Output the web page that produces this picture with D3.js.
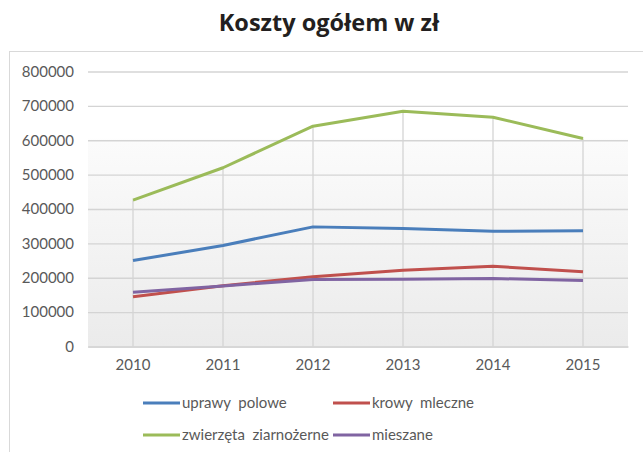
<!DOCTYPE html>
<html>
<head>
<meta charset="utf-8">
<script src="https://cdn.jsdelivr.net/npm/d3@7"></script>
<style>
  html, body { margin: 0; padding: 0; background: #fff; }
  svg { display: block; }
</style>
</head>
<body>
<div id="chart"></div>
<script>
const categories = ["2010", "2011", "2012", "2013", "2014", "2015"];
const seriesNames = ["uprawy  polowe", "krowy  mleczne", "zwierzęta  ziarnożerne", "mieszane"];
const uprawyPolowe = [250000, 294000, 348000, 343000, 335000, 336500];
const krowyMleczne = [144500, 177000, 202700, 222000, 233600, 217300];
const zwierzetaZiarnozerne = [425600, 520000, 641000, 684500, 667000, 605000];
const mieszane = [158000, 176000, 195000, 195800, 197800, 192000];
const yTicks = [0, 100000, 200000, 300000, 400000, 500000, 600000, 700000, 800000];
const title = "Koszty ogółem w zł";
const colors = ["#4a7ebb", "#c0504d", "#9bbb59", "#8064a2"];

const seriesValues = [uprawyPolowe, krowyMleczne, zwierzetaZiarnozerne, mieszane];
const W = 643, H = 452;
const margin = { left: 88, right: 628, top: 71.5, bottom: 346.5 };

const svg = d3.select("#chart").append("svg").attr("width", W).attr("height", H);
const font = "Lato, 'Open Sans', sans-serif";

// chart border
svg.append("rect").attr("x", 9.5).attr("y", 51.5).attr("width", 700).attr("height", 500)
  .attr("fill", "none").attr("stroke", "#d9d9d9").attr("stroke-width", 1);

// title
svg.append("text").attr("x", 329).attr("y", 31).attr("text-anchor", "middle")
  .attr("font-family", "'Open Sans', sans-serif").attr("font-weight", "bold")
  .attr("font-size", 23.5).attr("fill", "#231f20").text(title);

const x = d3.scaleBand().domain(categories).range([margin.left, margin.right]);
const y = d3.scaleLinear().domain([0, 800000]).range([margin.bottom, margin.top]);

// background gradient
const defs = svg.append("defs");
const grad = defs.append("linearGradient").attr("id", "bg").attr("x1", 0).attr("y1", 0).attr("x2", 0).attr("y2", 1);
grad.append("stop").attr("offset", "0%").attr("stop-color", "#ffffff");
grad.append("stop").attr("offset", "24%").attr("stop-color", "#ffffff");
grad.append("stop").attr("offset", "26%").attr("stop-color", "#fbfbfb");
grad.append("stop").attr("offset", "100%").attr("stop-color", "#ebebeb");
svg.append("rect").attr("x", margin.left).attr("y", margin.top)
  .attr("width", margin.right - margin.left).attr("height", margin.bottom - margin.top)
  .attr("fill", "url(#bg)");

// horizontal gridlines + y labels
const yAxis = d3.axisLeft(y).tickValues(yTicks).tickSize(-(margin.right - margin.left)).tickPadding(14)
  .tickFormat(d3.format("d"));
const gy = svg.append("g").attr("transform", `translate(${margin.left},0)`).call(yAxis);
gy.select(".domain").remove();
gy.selectAll(".tick line").attr("stroke", "#d4d4d4").attr("stroke-width", 1.3);
gy.selectAll(".tick text").attr("font-family", font).attr("font-size", 15).attr("fill", "#595959");

// drop lines from highest value to axis
const maxVals = categories.map((c, i) => d3.max(seriesValues, s => s[i]));
svg.append("g").selectAll("line").data(categories).join("line")
  .attr("x1", d => x(d) + x.bandwidth() / 2).attr("x2", d => x(d) + x.bandwidth() / 2)
  .attr("y1", (d, i) => y(maxVals[i])).attr("y2", y(0))
  .attr("stroke", "#d4d4d4").attr("stroke-width", 1.3);

// x axis labels
const xAxis = d3.axisBottom(x).tickSize(0).tickPadding(13);
const gx = svg.append("g").attr("transform", `translate(0,${margin.bottom})`).call(xAxis);
gx.select(".domain").attr("stroke", "#d4d4d4").attr("stroke-width", 1.3);
gx.selectAll(".tick text").attr("font-family", font).attr("font-size", 15).attr("fill", "#595959");

// lines
const line = d3.line().x((d, i) => x(categories[i]) + x.bandwidth() / 2).y(d => y(d));
seriesValues.forEach((vals, k) => {
  svg.append("path").datum(vals).attr("d", line)
    .attr("fill", "none").attr("stroke", colors[k]).attr("stroke-width", 3)
    .attr("stroke-linejoin", "round");
});

// legend
const legendPos = [
  { lx: 143, ly: 403 }, { lx: 333, ly: 403 },
  { lx: 143, ly: 435 }, { lx: 333, ly: 435 }
];
seriesNames.forEach((name, k) => {
  const p = legendPos[k];
  svg.append("line").attr("x1", p.lx).attr("x2", p.lx + 37).attr("y1", p.ly).attr("y2", p.ly)
    .attr("stroke", colors[k]).attr("stroke-width", 3);
  svg.append("text").attr("x", p.lx + 39).attr("y", p.ly + 5).attr("font-family", font)
    .attr("font-size", 15).attr("fill", "#595959").attr("xml:space", "preserve")
    .style("white-space", "pre").text(name);
});
</script>
</body>
</html>
